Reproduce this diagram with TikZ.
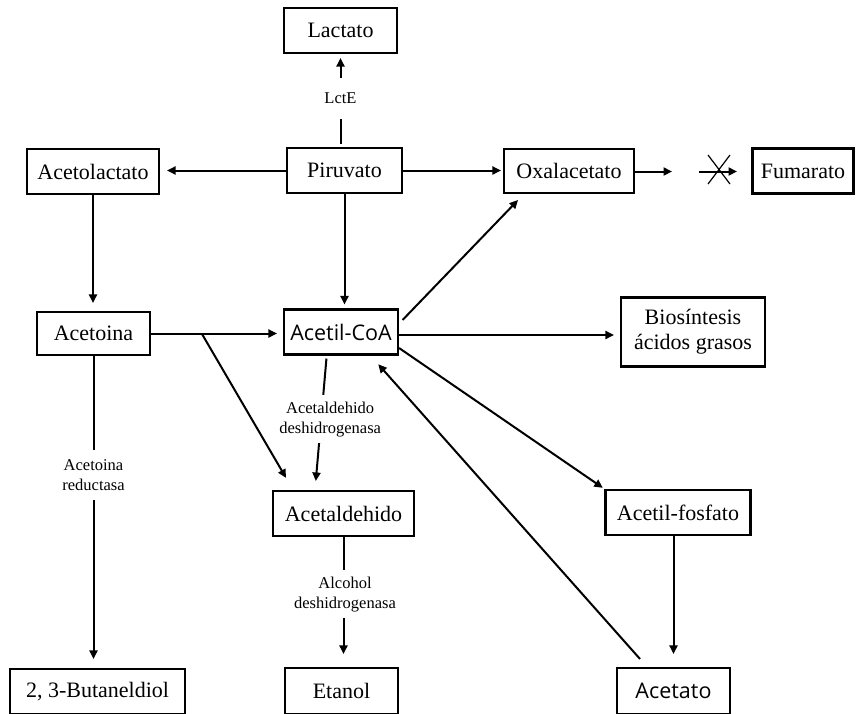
\documentclass[tikz,border=0pt]{standalone}
\usepackage{fontspec}
\setmainfont{Liberation Serif}
\newfontfamily\sansf{Open Sans}
\usetikzlibrary{arrows.meta,calc}
\begin{document}
\begin{tikzpicture}[x=1pt,y=-1pt,
  box/.style={draw, line width=2.1pt, inner sep=0pt, align=center, font=\fontsize{22}{25}\selectfont},
  sbox/.style={box, font=\sansf\fontsize{21.5}{25}\selectfont},
  lab/.style={fill=white, inner sep=0pt, align=center, font=\fontsize{16.5}{20}\selectfont},
  ln/.style={line width=2pt},
  arr/.style={ln, -{Triangle[length=8.5pt,width=8pt]}}]
\fill[white] (0,0) rectangle (856,713);
\useasboundingbox (0,0) rectangle (856,713);

% boxes
\node[box, minimum width=113pt, minimum height=45pt] (lac) at (340.5,30.5) {Lactato};
\node[box, minimum width=115pt, minimum height=45pt] (pir) at (344.5,170.5) {Piruvato};
\node[box, minimum width=132pt, minimum height=45pt] (acl) at (93,171.5) {Acetolactato};
\node[box, minimum width=130pt, minimum height=44pt] (oxa) at (569,171) {Oxalacetato};
\node[box, minimum width=101pt, minimum height=45pt] (fum) at (803,171) {Fumarato};
\node[box, minimum width=113pt, minimum height=43pt] (acn) at (93.5,333.5) {Acetoina};
\node[sbox, minimum width=114pt, minimum height=45pt] (coa) at (341,332) {Acetil-CoA};
\node[box, minimum width=144pt, minimum height=69pt] (bio) at (693,332) {Biosíntesis\\ácidos grasos};
\node[box, minimum width=141pt, minimum height=45pt] (ald) at (343.5,513.5) {Acetaldehido};
\node[box, minimum width=145pt, minimum height=45pt] (fos) at (678,512.5) {Acetil-fosfato};
\node[sbox, minimum width=113pt, minimum height=46pt] (ace) at (673.5,691) {Acetato};
\node[box, minimum width=113pt, minimum height=46pt] (eta) at (341.5,691) {Etanol};
\node[box, minimum width=175pt, minimum height=45pt] (but) at (97.5,691.5) {2, 3-Butaneldiol};

% Piruvato -> Lactato (LctE)
\draw[arr, shorten <=3pt, shorten >=4pt] (lac.south |- pir.north) -- (lac.south)
  node[lab, pos=0.52, minimum height=41pt] {LctE};

% Piruvato -> Acetolactato
\draw[arr, shorten >=7pt] (pir.west) -- (acl.east |- pir.west);
% Piruvato -> Oxalacetato
\draw[arr, shorten >=2pt] (pir.east) -- (oxa.west |- pir.east);
% Oxalacetato -> (blocked) -> Fumarato
\coordinate (o1) at (672,171.5);
\draw[arr] (oxa.east |- o1) -- (o1);
\coordinate (f0) at (699,171.5);
\coordinate (f1) at (737,171.5);
\draw[arr] (f0) -- (f1);
\draw[line width=1.2pt] (708,155) -- (730,184);
\draw[line width=1.2pt] (708,184) -- (730,155);

% Piruvato -> Acetil-CoA
\draw[arr, shorten >=4pt] (pir.south) -- (pir.south |- coa.north);
% Acetolactato -> Acetoina
\draw[arr, shorten >=8pt] (acl.south) -- (acl.south |- acn.north);
% Acetoina -> Acetil-CoA
\draw[arr, shorten >=6pt] (acn.east) -- (coa.west |- acn.east);
% branch Acetoina -> Acetaldehido
\coordinate (br) at (201.7,333.5);
\draw[arr, shorten >=14pt] (br) -- ([xshift=-50.4pt]ald.north);

% Acetil-CoA -> Acetaldehido
\draw[arr, shorten <=3pt, shorten >=9pt] ([xshift=-14.3pt]coa.south) -- ([xshift=-28.5pt]ald.north)
  node[lab, pos=0.474, xshift=9pt, minimum height=48pt] {Acetaldehido\\deshidrogenasa};

% Acetil-CoA -> Oxalacetato
\draw[arr, shorten >=8.3pt] ([xshift=3.5pt,yshift=12pt]coa.east) -- ([xshift=-45.2pt]oxa.south);
% Acetil-CoA -> Biosintesis
\draw[arr, shorten >=6pt] ([yshift=-3pt]coa.east) -- ([yshift=-3pt]bio.west);
% Acetil-CoA -> Acetil-fosfato
\draw[arr, shorten >=2pt] ([yshift=-16pt]coa.east) -- (fos.north west);
% Acetato -> Acetil-CoA
\draw[arr, shorten >=11.7pt] ([xshift=-33.5pt,yshift=8pt]ace.north) -- ([xshift=29.5pt]coa.south);
% Acetil-fosfato -> Acetato
\draw[arr, shorten >=13pt] (ace.north |- fos.south) -- (ace.north);

% Acetoina -> 2,3-Butaneldiol
\draw[arr, shorten >=9pt] (acn.south) -- (acn.south |- but.north)
  node[lab, pos=0.382, minimum height=50pt] {Acetoina\\reductasa};

% Acetaldehido -> Etanol
\draw[arr, shorten >=13pt] (ald.south) -- (ald.south |- eta.north)
  node[lab, pos=0.439, xshift=1.5pt, minimum height=48pt] {Alcohol\\deshidrogenasa};
\end{tikzpicture}
\end{document}
